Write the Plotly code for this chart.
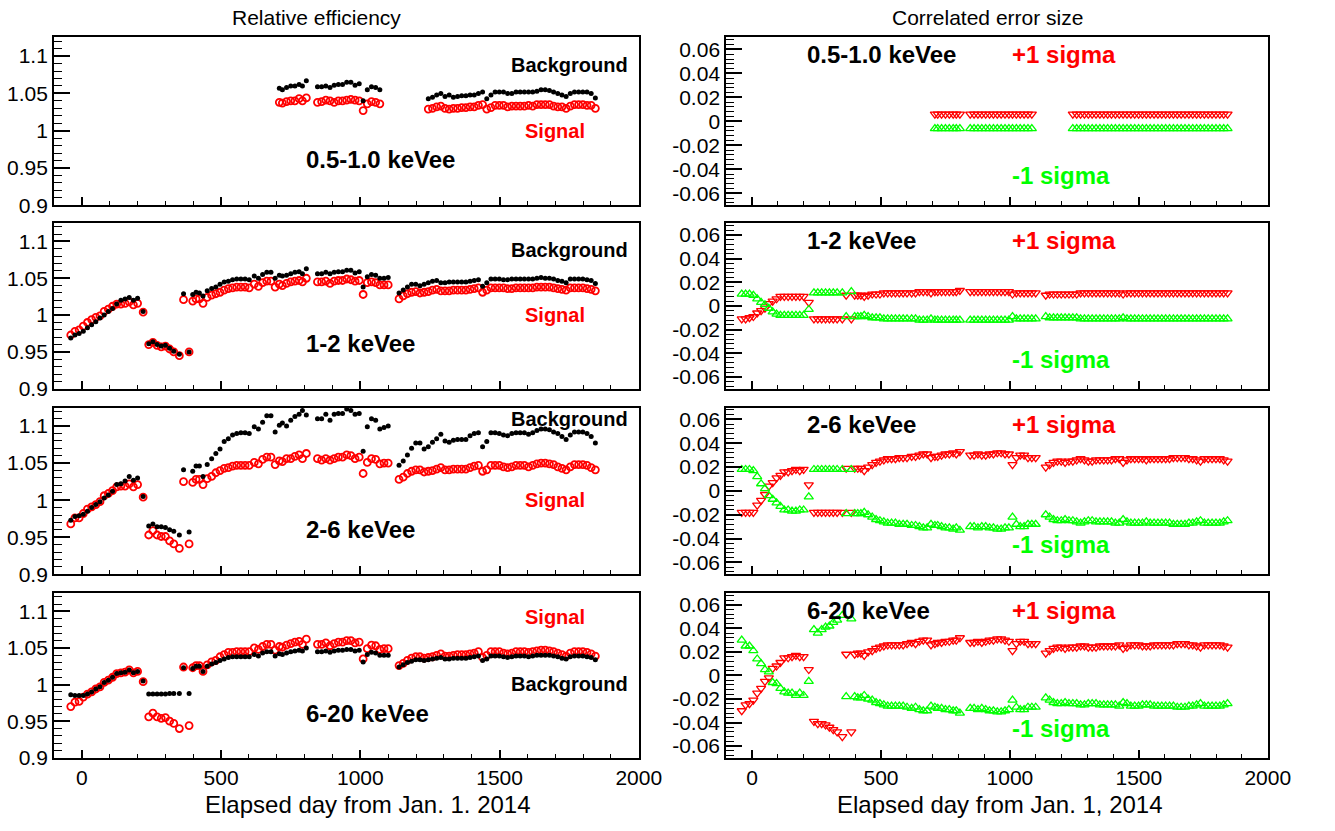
import plotly.graph_objects as go

SEG = [17, 1, 8, 1, 1, 29, 11, 1, 6, 48]


def build(*segs):
    out = []
    for s, n in zip(segs, SEG):
        assert len(s) == n, (len(s), n)
        out += list(s)
    return out


N = None

days = build(
    [-40, -25, -10, 5, 20, 35, 50, 65, 80, 95, 110, 125, 140, 155, 170, 185, 200],
    [220],
    [240, 255, 270, 285, 300, 315, 330, 350],
    [365], [385],
    [398, 410, 422, 435, 450, 466, 481, 496, 511, 526, 541, 556, 571, 586, 601,
     619, 634, 649, 664, 679, 694, 709, 720, 735, 750, 765, 780, 792, 806],
    [846, 861, 876, 891, 906, 921, 936, 951, 966, 981, 996],
    [1010],
    [1025, 1040, 1055, 1070, 1085, 1100],
    [1139, 1154, 1169, 1184, 1199, 1214, 1229, 1244, 1259, 1274,
     1289, 1304, 1319, 1334, 1349, 1364, 1379, 1394, 1409, 1424,
     1439, 1454, 1469, 1484, 1499, 1514, 1529, 1544, 1559, 1574,
     1589, 1604, 1619, 1634, 1649, 1664, 1679, 1694, 1709, 1724,
     1739, 1754, 1769, 1784, 1799, 1814, 1829, 1844],
)

# ---------------- Relative efficiency: background (black) / signal (red) ----------------
bkg_05 = build(
    [N] * 17, [N], [N] * 8, [N], [N],
    [N] * 21 + [1.057, 1.055, 1.058, 1.060, 1.060, 1.062, 1.060, 1.067],
    [1.059, 1.059, 1.060, 1.058, 1.061, 1.062, 1.062, 1.065, 1.065, 1.061, 1.063],
    [1.040],
    [1.055, 1.059, 1.058, 1.055, N, N],
    [N] * 7 + [1.043, 1.045, 1.048, 1.050, 1.046, 1.048, 1.045, 1.046, 1.047, 1.047,
               1.048, 1.048, 1.050, 1.052, 1.043, 1.048, 1.052, 1.052, 1.052, 1.050,
               1.050, 1.052, 1.052, 1.052, 1.052, 1.052, 1.053, 1.055, 1.055, 1.054,
               1.052, 1.050, 1.048, 1.046, 1.050, 1.052, 1.052, 1.052, 1.052, 1.050,
               1.044],
)
sig_05 = build(
    [N] * 17, [N], [N] * 8, [N], [N],
    [N] * 21 + [1.038, 1.037, 1.039, 1.040, 1.040, 1.043, 1.040, 1.044],
    [1.038, 1.039, 1.041, 1.040, 1.038, 1.040, 1.040, 1.041, 1.042, 1.041, 1.040],
    [1.027],
    [1.036, 1.039, 1.038, 1.036, N, N],
    [N] * 7 + [1.029, 1.030, 1.032, 1.033, 1.030, 1.029, 1.030, 1.030, 1.031, 1.031,
               1.032, 1.032, 1.034, 1.035, 1.029, 1.031, 1.034, 1.034, 1.034, 1.032,
               1.033, 1.033, 1.033, 1.033, 1.034, 1.033, 1.035, 1.035, 1.035, 1.035,
               1.033, 1.032, 1.032, 1.030, 1.033, 1.035, 1.035, 1.035, 1.034, 1.034,
               1.030],
)

bkg_12 = build(
    [0.969, 0.973, 0.975, 0.978, 0.983, 0.987, 0.991, 0.996, 1.000, 1.005,
     1.009, 1.015, 1.020, 1.022, 1.024, 1.020, 1.023],
    [1.005],
    [0.961, 0.964, 0.960, 0.958, 0.959, 0.955, 0.951, 0.947],
    [1.029], [0.950],
    [1.028, 1.031, 1.030, 1.026, 1.033, 1.036, 1.038, 1.042, 1.045, 1.046,
     1.048, 1.049, 1.049, 1.049, 1.048, 1.053, 1.050, 1.055, 1.058, 1.058,
     1.050, 1.054, 1.053, 1.054, 1.056, 1.058, 1.059, 1.056, 1.063],
    [1.056, 1.056, 1.058, 1.056, 1.058, 1.059, 1.059, 1.061, 1.061, 1.057, 1.059],
    [1.038],
    [1.052, 1.055, 1.054, 1.050, 1.050, 1.051],
    [1.030, 1.034, 1.038, 1.042, 1.042, 1.040, 1.042, 1.044, 1.046, 1.047,
     1.044, 1.044, 1.045, 1.045, 1.045, 1.045, 1.045, 1.046, 1.047, 1.048,
     1.039, 1.044, 1.049, 1.049, 1.049, 1.048, 1.048, 1.049, 1.049, 1.049,
     1.049, 1.049, 1.049, 1.050, 1.051, 1.050, 1.050, 1.049, 1.047, 1.046,
     1.044, 1.049, 1.049, 1.049, 1.049, 1.048, 1.047, 1.043],
)
sig_12 = build(
    [0.973, 0.978, 0.980, 0.985, 0.990, 0.994, 0.997, 0.999, 1.005, 1.008,
     1.012, 1.015, 1.015, 1.016, 1.018, 1.014, 1.016],
    [1.004],
    [0.960, 0.963, 0.959, 0.957, 0.958, 0.954, 0.950, 0.945],
    [1.021], [0.950],
    [1.019, 1.022, 1.022, 1.016, 1.024, 1.027, 1.029, 1.031, 1.034, 1.036,
     1.037, 1.038, 1.038, 1.038, 1.037, 1.042, 1.039, 1.044, 1.046, 1.046,
     1.038, 1.042, 1.040, 1.043, 1.045, 1.046, 1.047, 1.045, 1.050],
    [1.045, 1.045, 1.046, 1.043, 1.046, 1.047, 1.047, 1.049, 1.048, 1.046, 1.047],
    [1.028],
    [1.044, 1.045, 1.044, 1.041, 1.041, 1.041],
    [1.022, 1.026, 1.029, 1.031, 1.032, 1.030, 1.031, 1.032, 1.034, 1.035,
     1.033, 1.033, 1.033, 1.034, 1.034, 1.034, 1.034, 1.035, 1.036, 1.037,
     1.031, 1.034, 1.037, 1.037, 1.037, 1.037, 1.036, 1.036, 1.037, 1.037,
     1.037, 1.037, 1.037, 1.038, 1.038, 1.038, 1.038, 1.037, 1.036, 1.035,
     1.034, 1.037, 1.037, 1.037, 1.037, 1.036, 1.035, 1.033],
)

bkg_26 = build(
    [0.973, 0.978, 0.979, 0.981, 0.985, 0.990, 0.994, 0.998, 1.003, 1.007,
     1.012, 1.021, 1.022, 1.026, 1.032, 1.027, 1.030],
    [1.005],
    [0.965, 0.968, 0.964, 0.964, 0.963, 0.960, 0.958, 0.953],
    [1.041], [0.957],
    [1.039, 1.046, 1.046, 1.032, 1.048, 1.056, 1.063, 1.069, 1.079, 1.083,
     1.088, 1.090, 1.091, 1.091, 1.090, 1.099, 1.096, 1.105, 1.114, 1.114,
     1.092, 1.101, 1.104, 1.100, 1.108, 1.113, 1.116, 1.121, 1.115],
    [1.110, 1.110, 1.116, 1.108, 1.116, 1.117, 1.117, 1.123, 1.121, 1.116, 1.117],
    [1.066],
    [1.099, 1.110, 1.108, 1.096, 1.098, 1.100],
    [1.047, 1.053, 1.061, 1.070, 1.077, 1.077, 1.069, 1.072, 1.078, 1.083,
     1.089, 1.080, 1.078, 1.081, 1.082, 1.082, 1.082, 1.087, 1.090, 1.091,
     1.072, 1.079, 1.091, 1.091, 1.090, 1.088, 1.087, 1.090, 1.091, 1.091,
     1.091, 1.089, 1.091, 1.094, 1.096, 1.096, 1.095, 1.092, 1.090, 1.086,
     1.082, 1.088, 1.092, 1.092, 1.092, 1.090, 1.086, 1.077],
)
sig_26 = build(
    [0.968, 0.976, 0.976, 0.982, 0.988, 0.991, 0.994, 0.998, 1.006, 1.009,
     1.013, 1.018, 1.019, 1.019, 1.022, 1.018, 1.021],
    [1.004],
    [0.953, 0.959, 0.953, 0.951, 0.951, 0.945, 0.941, 0.935],
    [1.025], [0.941],
    [1.024, 1.028, 1.028, 1.021, 1.029, 1.032, 1.037, 1.040, 1.043, 1.044,
     1.046, 1.047, 1.047, 1.047, 1.047, 1.051, 1.049, 1.055, 1.058, 1.058,
     1.048, 1.053, 1.052, 1.056, 1.056, 1.059, 1.061, 1.056, 1.063],
    [1.056, 1.054, 1.056, 1.054, 1.056, 1.058, 1.058, 1.061, 1.060, 1.056, 1.058],
    [1.036],
    [1.051, 1.056, 1.055, 1.049, 1.050, 1.050],
    [1.028, 1.031, 1.036, 1.039, 1.041, 1.041, 1.038, 1.039, 1.040, 1.042,
     1.044, 1.041, 1.041, 1.042, 1.042, 1.042, 1.042, 1.044, 1.046, 1.047,
     1.039, 1.041, 1.047, 1.047, 1.047, 1.045, 1.044, 1.045, 1.047, 1.047,
     1.047, 1.045, 1.047, 1.049, 1.050, 1.050, 1.049, 1.048, 1.045, 1.043,
     1.041, 1.045, 1.048, 1.048, 1.048, 1.047, 1.044, 1.041],
)

bkg_620 = build(
    [0.986, 0.985, 0.985, 0.985, 0.987, 0.990, 0.994, 0.997, 1.003, 1.006,
     1.010, 1.015, 1.016, 1.017, 1.020, 1.016, 1.018],
    [1.005],
    [0.987, 0.987, 0.987, 0.987, 0.987, 0.988, 0.988, 0.988],
    [1.023], [0.988],
    [1.022, 1.025, 1.025, 1.018, 1.025, 1.028, 1.030, 1.033, 1.035, 1.037,
     1.038, 1.038, 1.038, 1.038, 1.038, 1.041, 1.039, 1.043, 1.045, 1.045,
     1.039, 1.042, 1.041, 1.043, 1.045, 1.046, 1.047, 1.046, 1.050],
    [1.045, 1.045, 1.046, 1.044, 1.046, 1.047, 1.047, 1.048, 1.048, 1.046, 1.047],
    [1.031],
    [1.041, 1.044, 1.043, 1.040, 1.040, 1.040],
    [1.024, 1.027, 1.030, 1.032, 1.034, 1.034, 1.033, 1.034, 1.035, 1.036,
     1.037, 1.035, 1.035, 1.036, 1.036, 1.036, 1.036, 1.037, 1.038, 1.039,
     1.033, 1.035, 1.039, 1.039, 1.039, 1.038, 1.037, 1.038, 1.039, 1.039,
     1.039, 1.038, 1.039, 1.040, 1.040, 1.040, 1.040, 1.039, 1.038, 1.036,
     1.035, 1.038, 1.039, 1.039, 1.039, 1.038, 1.037, 1.034],
)
sig_620 = build(
    [0.970, 0.976, 0.977, 0.983, 0.987, 0.990, 0.994, 0.997, 1.003, 1.006,
     1.010, 1.015, 1.016, 1.017, 1.020, 1.016, 1.018],
    [1.004],
    [0.956, 0.961, 0.956, 0.954, 0.955, 0.950, 0.947, 0.940],
    [1.024], [0.944],
    [1.023, 1.026, 1.026, 1.018, 1.027, 1.031, 1.033, 1.038, 1.041, 1.044,
     1.044, 1.045, 1.045, 1.045, 1.045, 1.050, 1.048, 1.052, 1.055, 1.055,
     1.047, 1.052, 1.051, 1.054, 1.056, 1.058, 1.059, 1.055, 1.062],
    [1.055, 1.055, 1.057, 1.053, 1.056, 1.058, 1.058, 1.060, 1.060, 1.057, 1.058],
    [1.035],
    [1.049, 1.054, 1.053, 1.048, 1.049, 1.049],
    [1.026, 1.029, 1.033, 1.036, 1.038, 1.038, 1.036, 1.037, 1.038, 1.040,
     1.042, 1.039, 1.039, 1.040, 1.041, 1.041, 1.041, 1.042, 1.043, 1.045,
     1.037, 1.040, 1.045, 1.045, 1.045, 1.043, 1.042, 1.043, 1.045, 1.045,
     1.045, 1.044, 1.045, 1.046, 1.047, 1.047, 1.046, 1.045, 1.043, 1.041,
     1.039, 1.043, 1.045, 1.045, 1.045, 1.044, 1.042, 1.039],
)

# ---------------- Correlated error size: +1 sigma (red) / -1 sigma (green) ----------------
plus_05 = build(
    [N] * 17, [N], [N] * 8, [N], [N],
    [N] * 21 + [0.006, 0.006, 0.006, 0.006, 0.006, 0.006, 0.006, 0.006],
    [0.006, 0.006, 0.006, 0.006, 0.006, 0.006, 0.006, 0.006, 0.006, 0.006, 0.006],
    [0.006],
    [0.006, 0.006, 0.006, 0.006, 0.006, N],
    [N] * 7 + [0.006, 0.006, 0.006, 0.006, 0.006, 0.006, 0.006, 0.006, 0.006, 0.006,
               0.006, 0.006, 0.006, 0.006, 0.006, 0.006, 0.006, 0.006, 0.006, 0.006,
               0.006, 0.006, 0.006, 0.006, 0.006, 0.006, 0.006, 0.006, 0.006, 0.006,
               0.006, 0.006, 0.006, 0.006, 0.006, 0.006, 0.006, 0.006, 0.006, 0.006,
               0.006],
)
minus_05 = build(
    [N] * 17, [N], [N] * 8, [N], [N],
    [N] * 21 + [-0.006, -0.006, -0.006, -0.006, -0.006, -0.006, -0.006, -0.006],
    [-0.006, -0.006, -0.006, -0.006, -0.006, -0.006, -0.006, -0.006, -0.006, -0.006, -0.006],
    [-0.006],
    [-0.006, -0.006, -0.006, -0.006, -0.006, N],
    [N] * 7 + [-0.006, -0.006, -0.006, -0.006, -0.006, -0.006, -0.006, -0.006, -0.006, -0.006,
               -0.006, -0.006, -0.006, -0.006, -0.006, -0.006, -0.006, -0.006, -0.006, -0.006,
               -0.006, -0.006, -0.006, -0.006, -0.006, -0.006, -0.006, -0.006, -0.006, -0.006,
               -0.006, -0.006, -0.006, -0.006, -0.006, -0.006, -0.006, -0.006, -0.006, -0.006,
               -0.006],
)

plus_12 = build(
    [-0.011, -0.011, -0.010, -0.009, -0.006, -0.004, -0.002, 0.002, 0.004, 0.006,
     0.008, 0.008, 0.008, 0.008, 0.008, 0.008, 0.008],
    [0.003],
    [-0.011, -0.011, -0.011, -0.011, -0.011, -0.011, -0.011, -0.011],
    [0.009], [-0.011],
    [0.009, 0.009, 0.009, 0.008, 0.009, 0.010, 0.010, 0.010, 0.011, 0.011,
     0.011, 0.011, 0.011, 0.011, 0.011, 0.011, 0.011, 0.012, 0.012, 0.012,
     0.011, 0.012, 0.012, 0.012, 0.012, 0.012, 0.012, 0.012, 0.013],
    [0.012, 0.012, 0.012, 0.012, 0.012, 0.012, 0.012, 0.012, 0.012, 0.012, 0.012],
    [0.010],
    [0.011, 0.011, 0.011, 0.011, 0.011, 0.011],
    [0.009, 0.010, 0.010, 0.010, 0.010, 0.010, 0.010, 0.010, 0.010, 0.011,
     0.011, 0.011, 0.011, 0.011, 0.011, 0.011, 0.011, 0.011, 0.011, 0.011,
     0.010, 0.011, 0.011, 0.011, 0.011, 0.011, 0.011, 0.011, 0.011, 0.011,
     0.011, 0.011, 0.011, 0.011, 0.011, 0.011, 0.011, 0.011, 0.011, 0.011,
     0.011, 0.011, 0.011, 0.011, 0.011, 0.011, 0.011, 0.011],
)
minus_12 = build(
    [0.010, 0.010, 0.010, 0.009, 0.006, 0.003, 0.001, -0.002, -0.005, -0.007,
     -0.008, -0.008, -0.008, -0.008, -0.008, -0.008, -0.008],
    [-0.003],
    [0.011, 0.011, 0.011, 0.011, 0.011, 0.011, 0.011, 0.011],
    [-0.009], [0.012],
    [-0.009, -0.009, -0.009, -0.008, -0.009, -0.010, -0.010, -0.010, -0.011, -0.011,
     -0.011, -0.011, -0.011, -0.011, -0.011, -0.011, -0.011, -0.012, -0.012, -0.012,
     -0.011, -0.012, -0.012, -0.012, -0.012, -0.012, -0.012, -0.012, -0.012],
    [-0.012, -0.012, -0.012, -0.012, -0.012, -0.012, -0.012, -0.012, -0.012, -0.012, -0.012],
    [-0.009],
    [-0.011, -0.011, -0.011, -0.011, -0.011, -0.011],
    [-0.009, -0.010, -0.010, -0.010, -0.010, -0.010, -0.010, -0.010, -0.010, -0.011,
     -0.011, -0.011, -0.011, -0.011, -0.011, -0.011, -0.011, -0.011, -0.011, -0.011,
     -0.010, -0.011, -0.011, -0.011, -0.011, -0.011, -0.011, -0.011, -0.011, -0.011,
     -0.011, -0.011, -0.011, -0.011, -0.011, -0.011, -0.011, -0.011, -0.011, -0.011,
     -0.011, -0.011, -0.011, -0.011, -0.011, -0.011, -0.011, -0.011],
)

plus_26 = build(
    [-0.018, -0.018, -0.018, -0.018, -0.012, -0.008, -0.003, 0.004, 0.007, 0.011,
     0.013, 0.016, 0.016, 0.017, 0.018, 0.017, 0.018],
    [0.005],
    [-0.018, -0.018, -0.018, -0.018, -0.018, -0.018, -0.018, -0.018],
    [0.019], [-0.018],
    [0.019, 0.019, 0.019, 0.017, 0.020, 0.022, 0.024, 0.025, 0.026, 0.027,
     0.027, 0.027, 0.028, 0.028, 0.028, 0.029, 0.029, 0.030, 0.031, 0.031,
     0.028, 0.029, 0.029, 0.030, 0.031, 0.031, 0.032, 0.031, 0.033],
    [0.030, 0.030, 0.031, 0.030, 0.030, 0.031, 0.031, 0.032, 0.032, 0.031, 0.031],
    [0.022],
    [0.028, 0.030, 0.030, 0.028, 0.028, 0.028],
    [0.020, 0.022, 0.024, 0.025, 0.025, 0.024, 0.025, 0.025, 0.026, 0.027,
     0.026, 0.025, 0.025, 0.026, 0.026, 0.026, 0.026, 0.026, 0.027, 0.027,
     0.024, 0.026, 0.027, 0.027, 0.027, 0.027, 0.026, 0.027, 0.027, 0.027,
     0.027, 0.027, 0.027, 0.028, 0.028, 0.028, 0.028, 0.027, 0.027, 0.026,
     0.025, 0.027, 0.027, 0.027, 0.027, 0.027, 0.026, 0.025],
)
minus_26 = build(
    [0.018, 0.018, 0.018, 0.017, 0.012, 0.006, 0.002, -0.004, -0.007, -0.010,
     -0.013, -0.016, -0.016, -0.017, -0.017, -0.016, -0.016],
    [-0.005],
    [0.018, 0.018, 0.018, 0.018, 0.018, 0.018, 0.018, 0.018],
    [-0.019], [0.018],
    [-0.019, -0.019, -0.019, -0.018, -0.020, -0.022, -0.024, -0.025, -0.026, -0.027,
     -0.027, -0.027, -0.028, -0.028, -0.028, -0.029, -0.029, -0.030, -0.031, -0.031,
     -0.028, -0.029, -0.029, -0.030, -0.031, -0.031, -0.032, -0.031, -0.033],
    [-0.030, -0.030, -0.031, -0.030, -0.030, -0.031, -0.031, -0.032, -0.032, -0.031, -0.031],
    [-0.022],
    [-0.028, -0.030, -0.030, -0.028, -0.028, -0.028],
    [-0.020, -0.022, -0.024, -0.025, -0.025, -0.024, -0.025, -0.025, -0.026, -0.027,
     -0.026, -0.025, -0.025, -0.026, -0.026, -0.026, -0.026, -0.026, -0.027, -0.027,
     -0.024, -0.026, -0.027, -0.027, -0.027, -0.027, -0.026, -0.027, -0.027, -0.027,
     -0.027, -0.027, -0.027, -0.028, -0.028, -0.028, -0.028, -0.027, -0.027, -0.026,
     -0.025, -0.027, -0.027, -0.027, -0.027, -0.027, -0.026, -0.025],
)

plus_620 = build(
    [-0.030, -0.025, -0.024, -0.021, -0.015, -0.011, -0.005, -0.002, 0.006, 0.008,
     0.011, 0.015, 0.015, 0.016, 0.017, 0.016, 0.016],
    [0.005],
    [-0.039, -0.041, -0.041, -0.042, -0.044, -0.046, -0.048, -0.052],
    [0.018], [-0.048],
    [0.018, 0.019, 0.019, 0.017, 0.020, 0.021, 0.023, 0.024, 0.025, 0.026,
     0.026, 0.026, 0.026, 0.026, 0.027, 0.028, 0.027, 0.029, 0.030, 0.030,
     0.026, 0.027, 0.028, 0.028, 0.029, 0.029, 0.030, 0.030, 0.032],
    [0.028, 0.028, 0.029, 0.028, 0.029, 0.030, 0.030, 0.031, 0.031, 0.030, 0.029],
    [0.021],
    [0.027, 0.029, 0.029, 0.027, 0.027, 0.027],
    [0.019, 0.021, 0.023, 0.024, 0.024, 0.023, 0.024, 0.024, 0.024, 0.025,
     0.025, 0.024, 0.024, 0.024, 0.025, 0.025, 0.025, 0.025, 0.025, 0.026,
     0.023, 0.024, 0.026, 0.026, 0.026, 0.025, 0.025, 0.025, 0.026, 0.026,
     0.026, 0.026, 0.026, 0.026, 0.027, 0.027, 0.027, 0.026, 0.026, 0.025,
     0.024, 0.026, 0.026, 0.026, 0.026, 0.026, 0.025, 0.024],
)
minus_620 = build(
    [0.030, 0.025, 0.025, 0.021, 0.014, 0.010, 0.005, 0.003, -0.006, -0.007,
     -0.011, -0.014, -0.015, -0.015, -0.017, -0.015, -0.017],
    [-0.005],
    [0.039, 0.036, 0.039, 0.041, 0.042, 0.045, 0.047, 0.051],
    [-0.018], [0.048],
    [-0.018, -0.019, -0.019, -0.017, -0.020, -0.021, -0.023, -0.024, -0.025, -0.026,
     -0.026, -0.026, -0.026, -0.026, -0.027, -0.028, -0.027, -0.029, -0.030, -0.030,
     -0.026, -0.027, -0.028, -0.028, -0.029, -0.029, -0.030, -0.030, -0.032],
    [-0.028, -0.028, -0.029, -0.028, -0.029, -0.030, -0.030, -0.031, -0.031, -0.030, -0.029],
    [-0.021],
    [-0.027, -0.029, -0.029, -0.027, -0.027, -0.027],
    [-0.019, -0.021, -0.023, -0.024, -0.024, -0.023, -0.024, -0.024, -0.024, -0.025,
     -0.025, -0.024, -0.024, -0.024, -0.025, -0.025, -0.025, -0.025, -0.025, -0.026,
     -0.023, -0.024, -0.026, -0.026, -0.026, -0.025, -0.025, -0.025, -0.026, -0.026,
     -0.026, -0.026, -0.026, -0.026, -0.027, -0.027, -0.027, -0.026, -0.026, -0.025,
     -0.024, -0.026, -0.026, -0.026, -0.026, -0.026, -0.025, -0.024],
)

energy_labels = ["0.5-1.0 keVee", "1-2 keVee", "2-6 keVee", "6-20 keVee"]
left_bkg = [bkg_05, bkg_12, bkg_26, bkg_620]
left_sig = [sig_05, sig_12, sig_26, sig_620]
right_plus = [plus_05, plus_12, plus_26, plus_620]
right_minus = [minus_05, minus_12, minus_26, minus_620]
eff_ticks = [0.9, 0.95, 1.0, 1.05, 1.1]
eff_ticktext = ["0.9", "0.95", "1", "1.05", "1.1"]
err_ticks = [-0.06, -0.04, -0.02, 0.0, 0.02, 0.04, 0.06]
err_ticktext = ["-0.06", "-0.04", "-0.02", "0", "0.02", "0.04", "0.06"]
day_ticks = [0, 500, 1000, 1500, 2000]

# ---------------- layout geometry (pixels) ----------------
W, H = 1335, 831
FONT = "Liberation Sans, Arial, Helvetica, sans-serif"
LEFT_X = (55, 650)
RIGHT_X = (739, 1290)
TOPS = [38, 226, 413, 601]
BOTS = [208, 394, 582, 768]
RED = "#ff0000"
GREEN = "#00ff00"
TICKSIZE = 21

fig = go.Figure()
layout = dict(
    width=W, height=H, margin=dict(l=0, r=0, t=0, b=0, pad=0),
    paper_bgcolor="white", plot_bgcolor="white", showlegend=False,
    font=dict(family=FONT, color="black"),
)
annotations = []


def xdom(px):
    return [px[0] / W, px[1] / W]


def ydom(k):
    return [1 - BOTS[k] / H, 1 - TOPS[k] / H]


for k in range(4):
    for side in range(2):
        idx = 2 * k + side + 1
        xa = "xaxis" if idx == 1 else f"xaxis{idx}"
        ya = "yaxis" if idx == 1 else f"yaxis{idx}"
        xr = "x" if idx == 1 else f"x{idx}"
        yr = "y" if idx == 1 else f"y{idx}"
        layout[xa] = dict(
            domain=xdom(LEFT_X if side == 0 else RIGHT_X), anchor=yr,
            range=[-100, 2000], tickvals=day_ticks,
            showticklabels=(k == 3), ticks="inside", ticklen=8, tickwidth=1.5,
            tickcolor="black",
            minor=dict(ticks="inside", ticklen=4, dtick=100, tick0=0,
                       tickwidth=1.2, tickcolor="black", showgrid=False),
            showline=True, linewidth=2, linecolor="black", mirror=True,
            showgrid=False, zeroline=False,
            tickfont=dict(size=TICKSIZE, family=FONT, color="black"),
        )
        if side == 0:
            yrange, tv, tt, mdt = [0.9, 1.125], eff_ticks, eff_ticktext, 0.01
        else:
            yrange, tv, tt, mdt = [-0.07, 0.07], err_ticks, err_ticktext, 0.004
        layout[ya] = dict(
            domain=ydom(k), anchor=xr, range=yrange,
            tickvals=tv, ticktext=tt, ticks="inside", ticklen=16, tickwidth=1.5,
            tickcolor="black",
            minor=dict(ticks="inside", ticklen=8, dtick=mdt, tick0=0,
                       tickwidth=1.2, tickcolor="black", showgrid=False),
            showline=True, linewidth=2, linecolor="black", mirror=True,
            showgrid=False, zeroline=False,
            tickfont=dict(size=TICKSIZE, family=FONT, color="black"),
        )
        if side == 0:
            fig.add_trace(go.Scatter(
                x=days, y=left_sig[k], mode="markers", xaxis=xr, yaxis=yr,
                marker=dict(symbol="circle-open", size=7, color=RED,
                            line=dict(width=1.8, color=RED)),
                name="Signal"))
            fig.add_trace(go.Scatter(
                x=days, y=left_bkg[k], mode="markers", xaxis=xr, yaxis=yr,
                marker=dict(symbol="circle", size=5, color="black"),
                name="Background"))
            annotations.append(dict(
                x=797, y=0.961, xref=xr, yref=yr, text=energy_labels[k],
                xanchor="left", yanchor="middle", showarrow=False,
                font=dict(size=24, family=FONT, color="black", weight="bold")))
            bg_y = [1.088, 1.089, 1.110, 1.001][k]
            sg_y = [0.999, 1.000, 1.000, 1.092][k]
            annotations.append(dict(
                x=1968, y=bg_y, xref=xr, yref=yr, text="Background",
                xanchor="right", yanchor="middle", showarrow=False,
                font=dict(size=20, family=FONT, color="black", weight="bold")))
            annotations.append(dict(
                x=1813, y=sg_y, xref=xr, yref=yr, text="Signal",
                xanchor="right", yanchor="middle", showarrow=False,
                font=dict(size=20, family=FONT, color=RED, weight="bold")))
        else:
            fig.add_trace(go.Scatter(
                x=days, y=right_plus[k], mode="markers", xaxis=xr, yaxis=yr,
                marker=dict(symbol="triangle-down-open", size=8, color=RED,
                            line=dict(width=1.3, color=RED)),
                name="+1 sigma"))
            fig.add_trace(go.Scatter(
                x=days, y=right_minus[k], mode="markers", xaxis=xr, yaxis=yr,
                marker=dict(symbol="triangle-up-open", size=8, color=GREEN,
                            line=dict(width=1.3, color=GREEN)),
                name="-1 sigma"))
            annotations.append(dict(
                x=205, y=0.0555, xref=xr, yref=yr, text=energy_labels[k],
                xanchor="left", yanchor="middle", showarrow=False,
                font=dict(size=24, family=FONT, color="black", weight="bold")))
            annotations.append(dict(
                x=1001, y=0.0555, xref=xr, yref=yr, text="+1 sigma",
                xanchor="left", yanchor="middle", showarrow=False,
                font=dict(size=24, family=FONT, color=RED, weight="bold")))
            annotations.append(dict(
                x=1001, y=-0.045, xref=xr, yref=yr, text="-1 sigma",
                xanchor="left", yanchor="middle", showarrow=False,
                font=dict(size=24, family=FONT, color=GREEN, weight="bold")))

# titles
annotations.append(dict(x=322 / W, y=1 - 18 / H, xref="paper", yref="paper",
                        text="Relative efficiency", xanchor="center", yanchor="middle",
                        showarrow=False, font=dict(size=21, family=FONT, color="black")))
annotations.append(dict(x=1005 / W, y=1 - 18 / H, xref="paper", yref="paper",
                        text="Correlated error size", xanchor="center", yanchor="middle",
                        showarrow=False, font=dict(size=21, family=FONT, color="black")))
annotations.append(dict(x=374 / W, y=1 - 815 / H, xref="paper", yref="paper",
                        text="Elapsed day from Jan. 1. 2014", xanchor="center",
                        yanchor="middle", showarrow=False,
                        font=dict(size=24, family=FONT, color="black")))
annotations.append(dict(x=1018 / W, y=1 - 815 / H, xref="paper", yref="paper",
                        text="Elapsed day from Jan. 1, 2014", xanchor="center",
                        yanchor="middle", showarrow=False,
                        font=dict(size=24, family=FONT, color="black")))

layout["annotations"] = annotations
fig.update_layout(**layout)
fig.write_html(
    "out.html",
    post_script="document.body.style.margin='0';document.body.style.overflow='hidden';",
)
